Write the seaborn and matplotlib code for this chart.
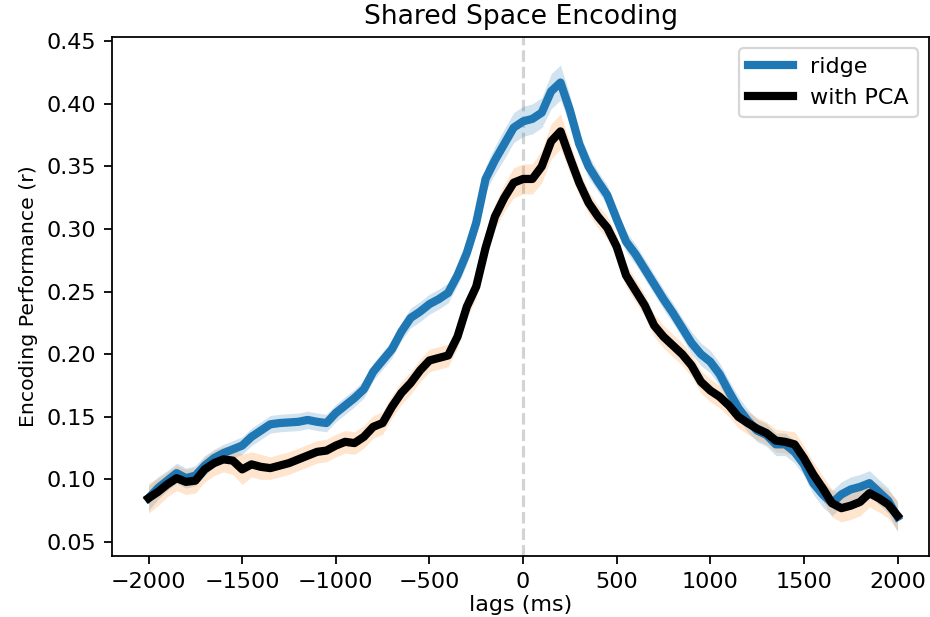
import numpy as np
import pandas as pd
import matplotlib
matplotlib.use("Agg")
import matplotlib.pyplot as plt
import seaborn as sns

# Lags (ms) at which the encoding models were evaluated
lags = list(range(-2000, 2001, 50))

# Mean encoding correlation per lag
ridge = [
    0.085, 0.093, 0.099, 0.105, 0.101, 0.103, 0.111, 0.117, 0.121,
    0.124, 0.127, 0.134, 0.139, 0.144, 0.145, 0.1455, 0.146, 0.1475, 0.146, 0.145,
    0.153, 0.159, 0.165, 0.172, 0.186, 0.195, 0.204, 0.218, 0.229, 0.234, 0.240, 0.244, 0.249, 0.263,
    0.281, 0.305, 0.340, 0.355, 0.368, 0.381, 0.386, 0.388, 0.393, 0.410, 0.417, 0.395, 0.368,
    0.350, 0.338, 0.327, 0.308, 0.290, 0.280, 0.268, 0.256, 0.244, 0.233, 0.221, 0.209, 0.200, 0.194,
    0.184, 0.170, 0.157, 0.147, 0.139, 0.1355, 0.128, 0.128, 0.122, 0.112, 0.097, 0.088, 0.081, 0.088,
    0.092, 0.094, 0.097, 0.090, 0.083, 0.070,
]
with_pca = [
    0.085, 0.090, 0.096, 0.101, 0.098, 0.099, 0.108, 0.113, 0.116,
    0.115, 0.108, 0.112, 0.110, 0.109, 0.111, 0.113, 0.116, 0.119, 0.122, 0.123,
    0.127, 0.130, 0.129, 0.134, 0.142, 0.145, 0.158, 0.169, 0.177, 0.187, 0.195, 0.197, 0.199, 0.214,
    0.238, 0.254, 0.285, 0.310, 0.325, 0.337, 0.340, 0.340, 0.350, 0.370, 0.378, 0.357, 0.337,
    0.321, 0.310, 0.301, 0.286, 0.263, 0.251, 0.239, 0.223, 0.214, 0.207, 0.200, 0.191, 0.178, 0.171,
    0.166, 0.159, 0.150, 0.145, 0.1405, 0.137, 0.131, 0.130, 0.128, 0.117, 0.104, 0.093, 0.081, 0.077,
    0.079, 0.082, 0.089, 0.085, 0.080, 0.071,
]

# Standard error half-widths for the shaded bands
ridge_se = [
    0.010, 0.009, 0.008, 0.008, 0.008, 0.008, 0.008, 0.007, 0.007,
    0.007, 0.007, 0.007, 0.007, 0.007, 0.007, 0.007, 0.007, 0.007, 0.007, 0.007,
    0.007, 0.007, 0.007, 0.007, 0.007, 0.007, 0.007, 0.007, 0.008, 0.008, 0.008, 0.008, 0.008, 0.008,
    0.009, 0.009, 0.010, 0.011, 0.012, 0.012, 0.012, 0.012, 0.012, 0.014, 0.014, 0.012, 0.010,
    0.009, 0.008, 0.008, 0.008, 0.008, 0.008, 0.008, 0.008, 0.008, 0.008, 0.008, 0.009, 0.009, 0.009,
    0.009, 0.009, 0.009, 0.009, 0.009, 0.009, 0.009, 0.009, 0.009, 0.009, 0.009, 0.010, 0.010, 0.010,
    0.010, 0.010, 0.010, 0.010, 0.010, 0.012,
]
pca_se = [
    0.012, 0.011, 0.010, 0.010, 0.010, 0.010, 0.010, 0.010, 0.010,
    0.011, 0.012, 0.010, 0.010, 0.009, 0.009, 0.009, 0.009, 0.009, 0.009, 0.009,
    0.009, 0.009, 0.009, 0.009, 0.009, 0.009, 0.009, 0.009, 0.009, 0.009, 0.009, 0.009, 0.009, 0.009,
    0.009, 0.009, 0.010, 0.010, 0.011, 0.012, 0.012, 0.012, 0.013, 0.014, 0.014, 0.012, 0.010,
    0.009, 0.009, 0.009, 0.009, 0.009, 0.009, 0.009, 0.009, 0.009, 0.009, 0.009, 0.009, 0.009, 0.009,
    0.009, 0.009, 0.009, 0.009, 0.009, 0.009, 0.009, 0.009, 0.010, 0.010, 0.010, 0.010, 0.011, 0.011,
    0.011, 0.011, 0.011, 0.011, 0.011, 0.012,
]

x_ticks = [-2000, -1500, -1000, -500, 0, 500, 1000, 1500, 2000]
y_ticks = [0.05, 0.10, 0.15, 0.20, 0.25, 0.30, 0.35, 0.40, 0.45]

df = pd.DataFrame({
    "lag": lags * 2,
    "r": ridge + with_pca,
    "se": ridge_se + pca_se,
    "model": ["ridge"] * len(lags) + ["with PCA"] * len(lags),
})

plt.rcParams["font.family"] = ["DejaVu Sans"]

DPI = 160
fig = plt.figure(figsize=(930 / DPI, 617 / DPI), dpi=DPI)
ax = fig.add_axes([112 / 930, 1 - 556 / 617, (929 - 112) / 930, (556 - 37) / 617])

band_colors = {"ridge": "tab:blue", "with PCA": "tab:orange"}
line_colors = {"ridge": "#1f77b4", "with PCA": "black"}

for name, sub in df.groupby("model", sort=False):
    ax.fill_between(sub["lag"], sub["r"] - sub["se"], sub["r"] + sub["se"],
                    color=band_colors[name], alpha=0.2, linewidth=0)

for name, sub in df.groupby("model", sort=False):
    sns.lineplot(data=sub, x="lag", y="r", ax=ax, color=line_colors[name],
                 linewidth=3.7, label=name, errorbar=None)

ax.axvline(0, color="lightgray", linestyle="--", linewidth=1.4, zorder=0)

ax.set_xlim(-2195, 2168)
ax.set_ylim(0.0388, 0.4534)
ax.set_xticks(x_ticks)
ax.set_yticks(y_ticks)
ax.set_yticklabels([f"{v:.2f}" for v in y_ticks])
ax.tick_params(labelsize=10, colors="black")

ax.set_title("Shared Space Encoding", fontsize=12)
ax.set_xlabel("lags (ms)", fontsize=10, labelpad=1.5)
ax.set_ylabel("Encoding Performance (r)", fontsize=9.2)
ax.legend(loc="upper right", fontsize=10)

fig.savefig("out.png", dpi=DPI)
